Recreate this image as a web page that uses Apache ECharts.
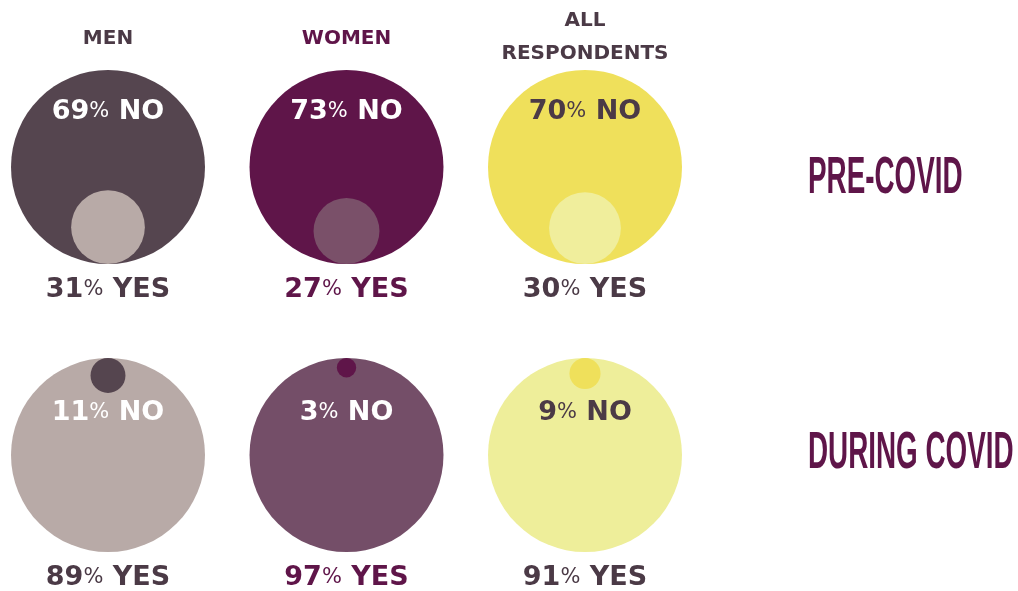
<!DOCTYPE html>
<html>
<head>
<meta charset="utf-8">
<title>Pre-COVID vs during COVID</title>
<script src="https://cdn.jsdelivr.net/npm/echarts@6/dist/echarts.min.js"></script>
<style>
  html, body { margin: 0; padding: 0; background: #fff; }
  #main { width: 1018px; height: 591px; }
</style>
</head>
<body>
<div id="main"></div>
<script>
// groups (columns) and periods (rows)
var groups = ['MEN', 'WOMEN', 'ALL\nRESPONDENTS'];
var periods = ['PRE-COVID', 'DURING COVID'];

// share of respondents, in %
var noPre = [69, 73, 70];
var yesPre = [31, 27, 30];
var noDuring = [11, 3, 9];
var yesDuring = [89, 97, 91];

var BIG = 194;
// inner circle diameter grows with the minority share
function innerSize(v) {
	return BIG * (0.07 + v / 100);
}

var bigColors = [['#55454f', '#5f1549', '#efe05b'], ['#b8aaa7', '#744e68', '#eeee9a']];
var smallColors = [['#b8aaa7', '#7a5069', '#f0ee9c'], ['#55454f', '#5f1549', '#efe05b']];
var headColors = ['#4b3a46', '#5f1549', '#4b3a46'];
var noColors = ['#ffffff', '#ffffff', '#4b3a46'];
var yesColors = ['#4b3a46', '#5f1549', '#4b3a46'];
var noOffsetY = [-55, -42];

var pctRich = {
	n: { fontFamily: 'DejaVu Sans', fontWeight: 'bold', fontSize: 27 },
	p: { fontFamily: 'DejaVu Sans', fontWeight: 'normal', fontSize: 21 }
};

var bigData = [], smallData = [], yesData = [];
for (var r = 0; r < periods.length; r++) {
	var noVals = r === 0 ? noPre : noDuring;
	var yesVals = r === 0 ? yesPre : yesDuring;
	for (var c = 0; c < groups.length; c++) {
		var no = noVals[c], yes = yesVals[c];
		var minor = Math.min(no, yes);
		var d = innerSize(minor);
		// minority "no" sits on top, minority "yes" sits at the bottom
		var side = no < yes ? -1 : 1;
		bigData.push({
			value: [c, r, no],
			itemStyle: { color: bigColors[r][c], opacity: 1 },
			label: {
				show: true,
				position: 'inside',
				offset: [0, noOffsetY[r]],
				color: noColors[c],
				formatter: '{n|' + no + '}{p|%}{n| NO}',
				rich: pctRich
			}
		});
		smallData.push({
			value: [c, r, minor],
			symbolSize: d,
			symbolOffset: [0, side * (BIG - d) / 2],
			itemStyle: { color: smallColors[r][c], opacity: 1 }
		});
		yesData.push({
			value: [c, r, yes],
			label: {
				show: true,
				position: 'bottom',
				distance: 12,
				color: yesColors[c],
				formatter: '{n|' + yes + '}{p|%}{n| YES}',
				rich: pctRich
			}
		});
	}
}

var chart = echarts.init(document.getElementById('main'));
chart.setOption({
	animation: false,
	backgroundColor: '#ffffff',
	grid: { left: 108, right: 433, top: 167, bottom: 136, outerBoundsMode: 'none' },
	xAxis: {
		type: 'category',
		position: 'top',
		boundaryGap: false,
		data: groups.map(function (g, i) {
			// one-line headers sit halfway between the two lines of the long one
			var single = g.indexOf('\n') < 0;
			return {
				value: g,
				textStyle: { color: headColors[i], padding: single ? [0, 0, 15, 0] : 0 }
			};
		}),
		axisLine: { show: false },
		axisTick: { show: false },
		splitLine: { show: false },
		axisLabel: {
			interval: 0,
			margin: 97,
			lineHeight: 33,
			fontFamily: 'DejaVu Sans',
			fontWeight: 'bold',
			fontSize: 20
		}
	},
	yAxis: {
		type: 'category',
		inverse: true,
		boundaryGap: false,
		data: periods,
		axisLine: { show: false },
		axisTick: { show: false },
		splitLine: { show: false },
		axisLabel: { show: false }
	},
	series: [{
		name: 'big',
		type: 'scatter',
		silent: true,
		clip: false,
		symbolSize: BIG,
		data: bigData
	}, {
		name: 'small',
		type: 'scatter',
		silent: true,
		clip: false,
		data: smallData
	}, {
		name: 'yes',
		type: 'scatter',
		silent: true,
		clip: false,
		symbolSize: BIG,
		itemStyle: { color: 'rgba(0,0,0,0)', opacity: 1 },
		data: yesData
	}]
});

// condensed row titles on the right, placed on the row's axis position
var rowShift = [12, -1];
chart.setOption({
	graphic: periods.map(function (p, i) {
		var y = chart.convertToPixel({ yAxisIndex: 0 }, p);
		return {
			type: 'text',
			x: 808,
			y: y + rowShift[i],
			scaleX: 0.535,
			silent: true,
			style: {
				text: p,
				fill: '#5f1549',
				font: 'bold 52px "Liberation Sans"',
				textAlign: 'left',
				textVerticalAlign: 'middle'
			}
		};
	})
});
</script>
</body>
</html>
